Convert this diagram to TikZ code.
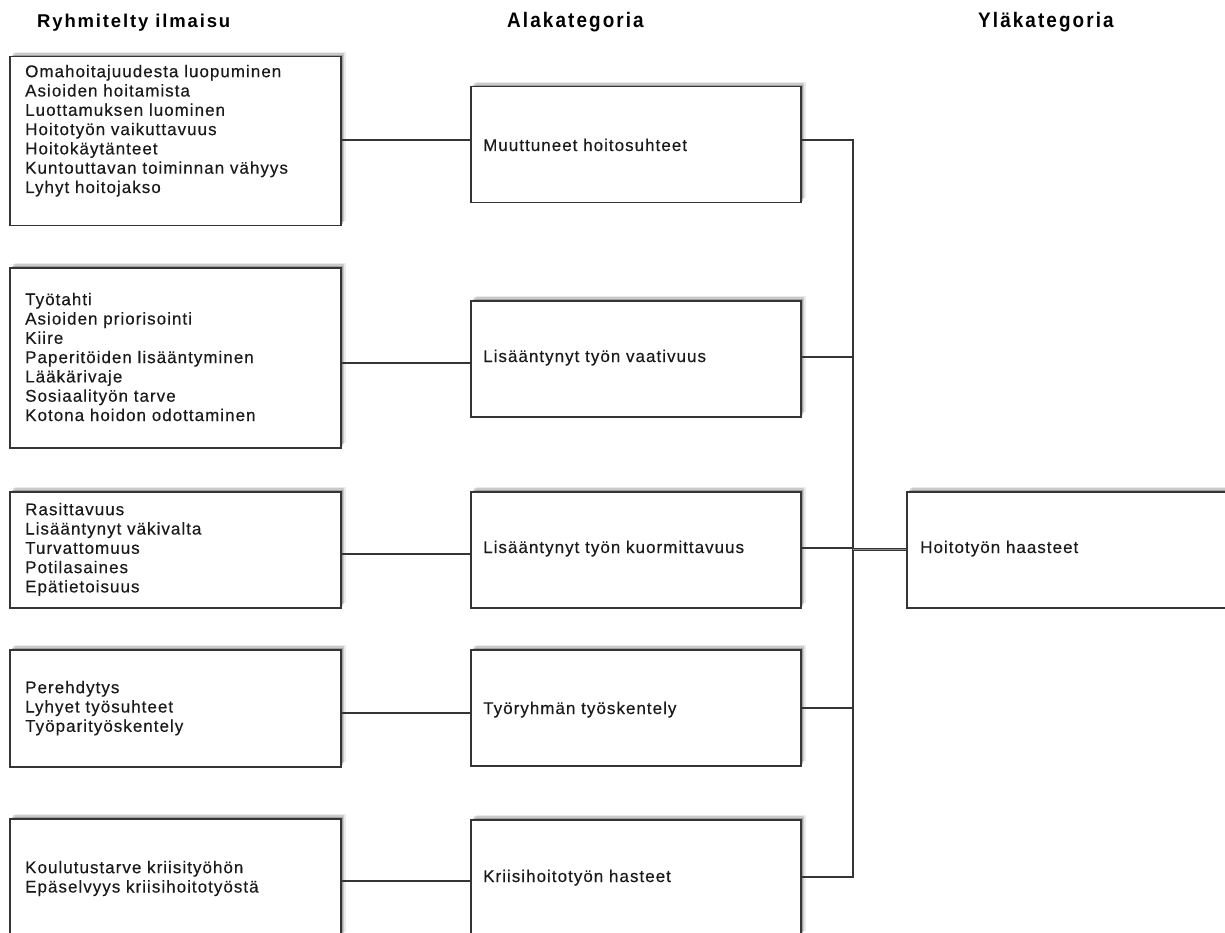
\documentclass[tikz,border=0pt]{standalone}
\usepackage{fontspec}
\setmainfont{Liberation Sans}
\newfontfamily\bodyf{Liberation Sans}[LetterSpace=6,FakeBold=0.3]
\newfontfamily\headf{Liberation Sans}[LetterSpace=10]
\newfontfamily\catf{Liberation Sans}[FakeStretch=0.9,LetterSpace=10]
\definecolor{linec}{HTML}{353535}
\definecolor{textc}{HTML}{1A1A1A}
\tikzset{
  box/.style={draw=linec, line width=1.5pt, fill=white, rectangle, inner sep=0pt, anchor=north west,
    preaction={fill=black, opacity=0.28, transform canvas={xshift=1pt,yshift=1pt}},
    preaction={fill=black, opacity=0.20, transform canvas={xshift=2.2pt,yshift=2.2pt}},
    preaction={fill=black, opacity=0.14, transform canvas={xshift=3.4pt,yshift=3.4pt}},
    preaction={fill=black, opacity=0.08, transform canvas={xshift=4.8pt,yshift=4.8pt}}},
  lbox/.style={box, minimum width=331pt},
  mbox/.style={box, minimum width=330pt, minimum height=116pt},
  multitext/.style={anchor=north west, inner sep=0pt, align=left, text=textc,
    font=\bodyf\fontsize{17}{19.3}\selectfont},
  onetext/.style={anchor=base west, inner sep=0pt, text=textc,
    font=\bodyf\fontsize{17}{19.3}\selectfont},
  head/.style={anchor=base west, inner sep=0pt, text=black},
  conn/.style={draw=linec, line width=1.3pt},
}
\begin{document}
\begin{tikzpicture}[x=1pt,y=-1pt]
\useasboundingbox (0,0) rectangle (1225,933);
\clip (0,0) rectangle (1225,933);
% headings
\node[head, font=\headf\bfseries\fontsize{18.5}{20}\selectfont] (h1) at (37,28) {Ryhmitelty ilmaisu};
\node[head, font=\catf\bfseries\fontsize{21}{22}\selectfont] (h2) at (507,28) {Alakategoria};
\node[head, font=\catf\bfseries\fontsize{21}{22}\selectfont] (h3) at (978,28) {Yläkategoria};
% left boxes
\node[lbox, minimum height=169pt] (L1) at (9,56) {};
\node[lbox, minimum height=180pt] (L2) at (9,267) {};
\node[lbox, minimum height=116pt] (L3) at (9,491) {};
\node[lbox, minimum height=117pt] (L4) at (9,649) {};
\node[lbox, minimum height=118pt] (L5) at (9,818) {};
% middle boxes
\node[mbox] (M1) at (470,86) {};
\node[mbox] (M2) at (470,300) {};
\node[mbox] (M3) at (470,491) {};
\node[mbox] (M4) at (470,649) {};
\node[mbox] (M5) at (470,819) {};
% right box
\node[box, minimum width=340pt, minimum height=116pt] (R) at (906,491) {};
% left texts
\node[multitext] (tL1) at (25,64) {\rule{0pt}{13pt}Omahoitajuudesta luopuminen\\Asioiden hoitamista\\Luottamuksen luominen\\Hoitotyön vaikuttavuus\\Hoitokäytänteet\\Kuntouttavan toiminnan vähyys\\Lyhyt hoitojakso};
\node[multitext] (tL2) at (25,292) {\rule{0pt}{13pt}Työtahti\\Asioiden priorisointi\\Kiire\\Paperitöiden lisääntyminen\\Lääkärivaje\\Sosiaalityön tarve\\Kotona hoidon odottaminen};
\node[multitext] (tL3) at (25,502) {\rule{0pt}{13pt}Rasittavuus\\Lisääntynyt väkivalta\\Turvattomuus\\Potilasaines\\Epätietoisuus};
\node[multitext] (tL4) at (25,680) {\rule{0pt}{13pt}Perehdytys\\Lyhyet työsuhteet\\Työparityöskentely};
\node[multitext] (tL5) at (25,860) {\rule{0pt}{13pt}Koulutustarve kriisityöhön\\Epäselvyys kriisihoitotyöstä};
% middle texts
\node[onetext] (tM1) at (483,151) {Muuttuneet hoitosuhteet};
\node[onetext] (tM2) at (483,362) {Lisääntynyt työn vaativuus};
\node[onetext] (tM3) at (483,553) {Lisääntynyt työn kuormittavuus};
\node[onetext] (tM4) at (483,714) {Työryhmän työskentely};
\node[onetext] (tM5) at (483,882) {Kriisihoitotyön hasteet};
\node[onetext] (tR) at (920,553) {Hoitotyön haasteet};
% left-to-middle connectors
\draw[conn] (L1.east |- 0,140) -- (M1.west |- 0,140);
\draw[conn] (L2.east |- 0,363) -- (M2.west |- 0,363);
\draw[conn] (L3.east |- 0,554) -- (M3.west |- 0,554);
\draw[conn] (L4.east |- 0,713) -- (M4.west |- 0,713);
\draw[conn] (L5.east |- 0,881) -- (M5.west |- 0,881);
% trunk
\coordinate (Ttop) at (853,140);
\coordinate (Tbot) at (853,877);
\draw[conn] (M1.east |- 0,140) -- (Ttop) -- (Tbot) -- (M5.east |- 0,877);
\draw[conn] (M2.east |- 0,357) -- (Ttop |- 0,357);
\draw[conn] (M3.east |- 0,548) -- (Ttop |- 0,548);
\draw[conn] (M4.east |- 0,708) -- (Ttop |- 0,708);
\draw[draw=linec, line width=1.1pt, double=black!45, double distance=0.9pt] (Ttop |- 0,549.5) -- (R.west |- 0,549.5);
\end{tikzpicture}
\end{document}
